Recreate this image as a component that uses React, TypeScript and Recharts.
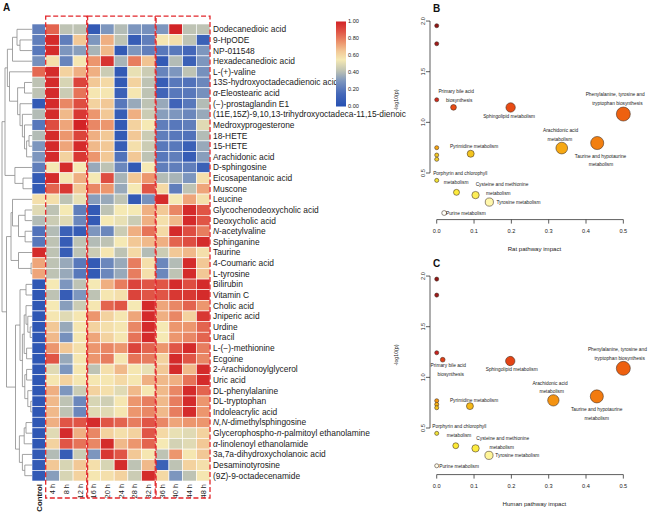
import React from 'react';
import {
  ScatterChart, Scatter, XAxis, YAxis, ZAxis, ReferenceLine, ReferenceArea,
  BarChart, Bar, Cell,
} from 'recharts';

const FONT = '"Liberation Sans", Arial, Helvetica, sans-serif';

// ---- panel A: heatmap ----
// text between underscores is set in italics
const metabolites = [
  'Dodecanedioic acid', '9-HpODE', 'NP-011548', 'Hexadecanedioic acid', 'L-(+)-valine',
  '13S-hydroxyoctadecadienoic acid', '_α_-Eleostearic acid', '(−)-prostaglandin E1',
  '(11E,15Z)-9,10,13-trihydroxyoctadeca-11,15-dienoic', 'Medroxyprogesterone', '18-HETE', '15-HETE',
  'Arachidonic acid', 'D-sphingosine', 'Eicosapentanoic acid', 'Muscone', 'Leucine',
  'Glycochenodeoxycholic acid', 'Deoxycholic acid', '_N_-acetylvaline', 'Sphinganine', 'Taurine',
  '4-Coumaric acid', 'L-tyrosine', 'Bilirubin', 'Vitamin C', 'Cholic acid', 'Jniperic acid', 'Urdine',
  'Uracil', 'L-(−)-methionine', 'Ecgoine', '2-Arachidonoylglycerol', 'Uric acid', 'DL-phenylalanine',
  'DL-tryptophan', 'Indoleacrylic acid', '_N,N_-dimethylsphingosine',
  'Glycerophospho-_n_-palmitoyl ethanolamine', '_α_-linolenoyl ethanolamide',
  '3a,7a-dihydroxycholanoic acid', 'Desaminotyrosine', '(9Z)-9-octadecenamide',
];

const timepoints = ['Control', '4 h', '8 h', '12 h', '16 h', '20 h', '24 h', '28 h', '32 h', '36 h', '40 h', '44 h', '48 h'];

// scaled abundance, one row per metabolite, columns = timepoints
const heatValues = [
  [0.22, 0.85, 0.42, 0.42, 0.06, 0.3, 0.4, 0.3, 0.28, 0.3, 1.0, 0.42, 0.42],
  [0.22, 0.98, 0.22, 0.65, 0.3, 0.7, 0.42, 0.08, 0.22, 0.56, 0.58, 0.42, 0.1],
  [0.2, 0.98, 0.3, 0.32, 0.38, 0.68, 0.06, 0.3, 0.22, 0.2, 0.2, 0.14, 0.3],
  [0.28, 0.58, 0.24, 0.56, 0.75, 0.96, 0.38, 0.8, 0.66, 0.06, 0.4, 0.1, 0.3],
  [0.84, 0.98, 0.62, 0.7, 0.7, 0.45, 0.06, 0.52, 0.45, 0.24, 0.3, 0.42, 0.28],
  [0.42, 0.98, 0.48, 0.92, 0.65, 0.6, 0.06, 0.62, 0.42, 0.08, 0.2, 0.18, 0.25],
  [0.42, 0.98, 0.45, 0.82, 0.56, 0.56, 0.1, 0.56, 0.42, 0.12, 0.2, 0.2, 0.28],
  [0.06, 0.98, 0.78, 0.9, 0.62, 0.65, 0.2, 0.35, 0.42, 0.35, 0.12, 0.2, 0.4],
  [0.4, 0.98, 0.68, 0.95, 0.75, 0.65, 0.08, 0.7, 0.45, 0.32, 0.3, 0.25, 0.35],
  [0.2, 0.9, 0.72, 1.0, 0.78, 0.75, 0.06, 0.62, 0.55, 0.22, 0.2, 0.22, 0.5],
  [0.4, 0.98, 0.75, 0.92, 0.7, 0.65, 0.06, 0.65, 0.45, 0.22, 0.2, 0.18, 0.4],
  [0.3, 0.98, 0.72, 0.98, 0.68, 0.65, 0.08, 0.58, 0.45, 0.2, 0.2, 0.1, 0.35],
  [0.3, 0.98, 0.62, 0.95, 0.75, 0.65, 0.18, 0.65, 0.42, 0.2, 0.22, 0.08, 0.32],
  [0.22, 0.55, 0.98, 0.55, 0.35, 0.42, 0.25, 0.06, 0.55, 0.22, 0.22, 0.22, 0.1],
  [0.06, 0.98, 0.56, 0.7, 0.55, 0.9, 0.38, 0.65, 0.75, 0.4, 0.38, 0.3, 0.58],
  [0.06, 0.85, 0.95, 0.65, 0.78, 0.75, 0.35, 0.55, 0.88, 0.6, 0.22, 0.42, 0.72],
  [0.58, 0.58, 0.42, 0.52, 0.32, 0.35, 0.42, 0.06, 0.28, 0.98, 0.55, 0.72, 0.58],
  [0.5, 0.42, 0.55, 0.22, 0.06, 0.42, 0.55, 0.55, 0.7, 0.65, 0.78, 0.98, 0.88],
  [0.4, 0.45, 0.5, 0.25, 0.06, 0.55, 0.52, 0.45, 0.7, 0.58, 0.68, 0.98, 0.88],
  [0.18, 0.4, 0.1, 0.08, 0.3, 0.25, 0.45, 0.7, 0.82, 0.6, 0.98, 0.9, 0.8],
  [0.2, 0.42, 0.08, 0.42, 0.4, 0.42, 0.55, 0.65, 0.68, 0.7, 0.85, 0.9, 0.98],
  [0.98, 0.42, 0.08, 0.42, 0.45, 0.56, 0.42, 0.6, 0.4, 0.45, 0.65, 0.68, 0.58],
  [0.72, 0.42, 0.35, 0.2, 0.06, 0.25, 0.35, 0.8, 0.58, 0.25, 0.4, 0.98, 0.65],
  [0.72, 0.42, 0.35, 0.2, 0.06, 0.25, 0.35, 0.8, 0.58, 0.25, 0.42, 0.98, 0.65],
  [0.04, 0.55, 0.3, 0.42, 0.55, 0.7, 0.8, 0.92, 0.88, 0.88, 0.98, 0.9, 0.98],
  [0.04, 0.42, 0.08, 0.3, 0.42, 0.56, 0.58, 0.92, 0.88, 0.88, 0.95, 0.95, 0.98],
  [0.04, 0.55, 0.32, 0.45, 0.56, 0.85, 0.88, 0.55, 0.98, 0.72, 0.78, 0.85, 0.75],
  [0.04, 0.56, 0.5, 0.56, 0.75, 0.62, 0.56, 0.72, 0.98, 0.7, 0.78, 0.62, 0.95],
  [0.04, 0.65, 0.35, 0.56, 0.62, 0.58, 0.56, 0.78, 0.98, 0.55, 0.75, 0.75, 0.85],
  [0.04, 0.68, 0.28, 0.56, 0.72, 0.62, 0.56, 0.82, 0.98, 0.55, 0.75, 0.78, 0.85],
  [0.04, 0.75, 0.65, 0.58, 0.75, 0.78, 0.75, 0.92, 0.85, 0.75, 0.88, 0.98, 0.8],
  [0.04, 0.88, 0.35, 0.56, 0.75, 0.8, 0.56, 0.82, 0.8, 0.62, 0.98, 0.88, 0.78],
  [0.04, 0.5, 0.3, 0.56, 0.42, 0.58, 0.68, 0.56, 0.52, 0.65, 0.98, 0.68, 0.98],
  [0.04, 0.56, 0.62, 0.56, 0.56, 0.56, 0.6, 0.56, 0.7, 0.68, 0.7, 0.82, 0.98],
  [0.04, 0.7, 0.3, 0.45, 0.62, 0.58, 0.5, 0.68, 0.56, 0.68, 0.78, 0.98, 0.85],
  [0.04, 0.68, 0.42, 0.25, 0.48, 0.46, 0.56, 0.75, 0.8, 0.68, 0.8, 0.98, 0.75],
  [0.04, 0.68, 0.42, 0.25, 0.5, 0.5, 0.56, 0.75, 0.78, 0.68, 0.8, 0.98, 0.75],
  [0.04, 0.7, 0.88, 0.88, 0.98, 0.88, 0.85, 0.8, 0.88, 0.78, 0.72, 0.75, 0.75],
  [0.04, 0.5, 0.98, 0.7, 0.78, 0.62, 0.58, 0.62, 0.88, 0.6, 0.52, 0.5, 0.62],
  [0.04, 0.62, 0.88, 0.82, 0.78, 0.98, 0.68, 0.75, 0.85, 0.55, 0.47, 0.5, 0.65],
  [0.06, 0.4, 0.08, 0.45, 0.3, 0.95, 0.88, 0.65, 0.56, 0.42, 0.75, 0.56, 0.65],
  [0.06, 0.65, 0.48, 0.65, 0.58, 0.48, 0.98, 0.42, 0.68, 0.1, 0.42, 0.62, 0.58],
  [0.06, 0.32, 0.48, 0.62, 0.56, 0.58, 0.62, 0.45, 0.98, 0.6, 0.3, 0.42, 0.56],
];

const legendTicks = [0, 0.2, 0.4, 0.6, 0.8, 1];

// row clustering: [left, right, height]; ids >= 43 point at earlier merges (43 + index)
const dendroMerges: [number, number, number][] = [
  [1, 2, 4.0], [0, 43, 5.0], [44, 3, 6.5], [5, 6, 2.5], [10, 11, 1.0], [47, 12, 1.8],
  [9, 48, 2.5], [8, 49, 3.2], [7, 50, 4.0], [46, 51, 4.8], [4, 52, 7.5], [45, 53, 8.2],
  [14, 15, 3.0], [13, 55, 5.7], [54, 56, 9.0],
  [17, 18, 2.3], [19, 20, 2.3], [58, 59, 4.5], [16, 60, 6.5], [22, 23, 0.3], [21, 62, 4.5], [61, 63, 7.0],
  [24, 25, 2.0], [28, 29, 0.6], [27, 66, 1.4], [26, 67, 2.0], [30, 31, 1.8], [68, 69, 2.6],
  [32, 33, 1.8], [35, 36, 0.4], [34, 72, 1.4], [71, 73, 2.4], [70, 74, 3.2], [65, 75, 4.0],
  [37, 38, 2.0], [77, 39, 2.6], [41, 42, 2.4], [40, 79, 3.2], [78, 80, 4.2], [76, 81, 5.5],
  [64, 82, 8.5], [57, 83, 10],
];

// ---- panels B and C: pathway bubbles ----
const ratImpact = [0, 0, 0, 0.045, 0.198, 0.5, 0.335, 0.43, 0, 0, 0, 0.091, 0, 0.053, 0.104, 0.141, 0.02];
const ratLogP = [1.954, 1.776, 1.223, 1.148, 1.147, 1.082, 0.746, 0.796, 0.75, 0.677, 0.635, 0.69, 0.427, 0.309, 0.282, 0.213, 0.105];
const humanImpact = [0, 0, 0, 0.016, 0.197, 0.5, 0.3125, 0.429, 0, 0, 0, 0.089, 0, 0.051, 0.104, 0.14, 0];
const humanLogP = [1.97, 1.812, 1.243, 1.174, 1.161, 1.089, 0.773, 0.812, 0.769, 0.733, 0.7, 0.716, 0.447, 0.325, 0.299, 0.23, 0.127];

const impactTicks = [0, 0.1, 0.2, 0.3, 0.4, 0.5];
const logPTicks = [0.5, 1.0, 1.5, 2.0];

// [text, impact, -log10(p)] as placed with text() in the original
const ratLabels: [string, number, number][] = [
  ['Primary bile acid', 0.052, 1.306], ['biosynthesis', 0.06, 1.22],
  ['Sphingolipid metabolism', 0.194, 1.055],
  ['Phenylalanine, tyrosine and', 0.478, 1.272], ['tryptophan biosynthesis', 0.484, 1.184],
  ['Arachidonic acid', 0.332, 0.921], ['metabolism', 0.33, 0.832],
  ['Taurine and hypotaurine', 0.439, 0.667], ['metabolism', 0.44, 0.581],
  ['Pyrimidine metabolism', 0.1, 0.759],
  ['Porphyrin and chlorophyll', 0.063, 0.493], ['metabolism', 0.052, 0.404],
  ['Cysteine and methionine', 0.175, 0.384], ['metabolism', 0.165, 0.299],
  ['Tyrosine metabolism', 0.219, 0.21], ['Purine metabolism', 0.078, 0.105],
];
const humanLabels: [string, number, number][] = [
  ['Phenylalanine, tyrosine and', 0.484, 1.276], ['tryptophan biosynthesis', 0.49, 1.188],
  ['Primary bile acid', 0.031, 1.115], ['biosynthesis', 0.0375, 1.03],
  ['Sphingolipid metabolism', 0.201, 1.075],
  ['Arachidonic acid', 0.3035, 0.944], ['metabolism', 0.308, 0.858],
  ['Taurine and hypotaurine', 0.4286, 0.687], ['metabolism', 0.4286, 0.598],
  ['Pyrimidine metabolism', 0.1, 0.776],
  ['Porphyrin and chlorophyll', 0.0606, 0.512], ['metabolism', 0.06, 0.424],
  ['Cysteine and methionine', 0.177, 0.401], ['metabolism', 0.174, 0.312],
  ['Tyrosine metabolism', 0.216, 0.23], ['Purine metabolism', 0.06, 0.124],
];

// ---- colours ----
const heatStops: [number, number[]][] = [
  [0, [38, 80, 178]], [0.15, [70, 105, 185]], [0.3, [125, 150, 190]], [0.42, [190, 195, 180]],
  [0.55, [245, 233, 180]], [0.65, [242, 200, 150]], [0.75, [236, 150, 110]], [0.88, [224, 85, 70]],
  [1, [210, 35, 38]],
];

const hex = (h: string) => [1, 3, 5].map((i) => parseInt(h.slice(i, i + 2), 16));
const bubbleStops: [number, number[]][] = [
  [0.1, '#ffffff'], [0.22, '#fff6a6'], [0.3, '#fdec40'], [0.35, '#fbe628'], [0.45, '#eee23a'],
  [0.65, '#f0cc2c'], [0.7, '#f4c21c'], [0.75, '#f6a612'], [0.8, '#f27c10'], [1.09, '#ee6010'],
  [1.15, '#e84a14'], [1.2, '#d83018'], [1.25, '#c42020'], [1.8, '#9e1a1a'], [2.0, '#8c1414'],
].map(([v, c]) => [v as number, hex(c as string)]);

function ramp(stops: [number, number[]][], v: number) {
  if (v <= stops[0][0]) return `rgb(${stops[0][1].join(',')})`;
  for (let i = 1; i < stops.length; i++) {
    const [v1, c1] = stops[i];
    const [v0, c0] = stops[i - 1];
    if (v <= v1) {
      const t = (v - v0) / (v1 - v0);
      return `rgb(${c0.map((c, k) => Math.round(c + (c1[k] - c) * t)).join(',')})`;
    }
  }
  return `rgb(${stops[stops.length - 1][1].join(',')})`;
}
const heatColor = (v: number) => ramp(heatStops, v);
const bubbleColor = (v: number) => ramp(bubbleStops, v);

// ---- layout ----
const HM = { width: 430, height: 515, top: 24, bottom: 481, left: 32, right: 210 };
const CELL_W = (HM.right - HM.left) / timepoints.length;
const CELL_H = (HM.bottom - HM.top) / metabolites.length;
const hmMargin = { top: HM.top, bottom: HM.height - HM.bottom, left: HM.left, right: HM.width - HM.right };
const rowDomain = [-0.5, metabolites.length - 0.5];
const colDomain = [-0.5, timepoints.length - 0.5];

const RowTick = ({ x, y, payload }: any) => {
  const parts = (metabolites[payload.value] || '').split('_');
  return (
    <text x={x} y={y} dy="0.35em" fontSize={8.4} fontFamily={FONT} fill="#1a1a1a" textAnchor="start">
      {parts.map((p, i) => (
        <tspan key={i} fontStyle={i % 2 ? 'italic' : 'normal'}>{p}</tspan>
      ))}
    </text>
  );
};

const ColTick = ({ x, y, payload }: any) => (
  <text
    x={x} y={y} dy="0.35em" transform={`rotate(-90 ${x} ${y})`} textAnchor="end"
    fontSize={payload.value === 0 ? 7.8 : 7.4} fontWeight={payload.value === 0 ? 'bold' : 'normal'}
    fontFamily={FONT} fill="#1a1a1a"
  >
    {timepoints[payload.value]}
  </text>
);

const HeatCell = (p: any) => (
  <rect
    x={p.cx - CELL_W / 2} y={p.cy - CELL_H / 2} width={CELL_W} height={CELL_H}
    fill={heatColor(p.payload.v)} stroke="#ffffff" strokeWidth={0.6}
  />
);

function Heatmap() {
  const cells = heatValues.flatMap((row, r) => row.map((v, c) => ({ col: c, row: r, v })));
  return (
    <ScatterChart width={HM.width} height={HM.height} margin={{ ...hmMargin, right: hmMargin.right - 1, bottom: hmMargin.bottom - 1 }}>
      <XAxis
        type="number" dataKey="col" domain={colDomain} ticks={timepoints.map((_, i) => i)} interval={0}
        height={1} tickSize={0} tickMargin={3} axisLine={false} tickLine={false} tick={<ColTick />} allowDataOverflow
      />
      <YAxis
        type="number" dataKey="row" orientation="right" reversed domain={rowDomain}
        ticks={metabolites.map((_, i) => i)} interval={0} width={1} tickSize={0} tickMargin={3}
        axisLine={false} tickLine={false} tick={<RowTick />} allowDataOverflow
      />
      <Scatter data={cells} isAnimationActive={false} shape={(p: any) => <HeatCell {...p} />} />
    </ScatterChart>
  );
}

function TimeBoxes() {
  const boxes = [[0.5, 3.5], [3.56, 8.5], [8.56, 12.5]];
  return (
    <ScatterChart width={HM.width} height={HM.height} margin={hmMargin}>
      <XAxis type="number" dataKey="col" domain={colDomain} hide allowDataOverflow />
      <YAxis type="number" dataKey="row" reversed domain={rowDomain} hide allowDataOverflow />
      <Scatter data={[{ col: 0, row: 0 }]} isAnimationActive={false} shape={() => <g />} />
      {boxes.map(([a, b], i) => (
        <ReferenceArea
          key={i} x1={a} x2={b} y1={-1.25} y2={44.1} ifOverflow="visible"
          fill="none" fillOpacity={0} stroke="#e2262b" strokeWidth={1.3} strokeDasharray="5 2.5"
        />
      ))}
    </ScatterChart>
  );
}

function Dendrogram() {
  const nodes = metabolites.map((_, i) => ({ h: 0, y: i }));
  const segs: { x: number; y: number }[][] = [];
  dendroMerges.forEach(([a, b, h]) => {
    const na = nodes[a];
    const nb = nodes[b];
    segs.push([{ x: na.h, y: na.y }, { x: h, y: na.y }]);
    segs.push([{ x: nb.h, y: nb.y }, { x: h, y: nb.y }]);
    segs.push([{ x: h, y: na.y }, { x: h, y: nb.y }]);
    nodes.push({ h, y: (na.y + nb.y) / 2 });
  });
  const leaves = metabolites.map((_, i) => ({ x: 0, y: i }));
  return (
    <ScatterChart width={33} height={HM.height} margin={{ top: HM.top, bottom: HM.height - HM.bottom, left: 2, right: 1 }}>
      <XAxis type="number" dataKey="x" domain={[0, 10]} reversed hide allowDataOverflow />
      <YAxis type="number" dataKey="y" domain={rowDomain} reversed hide allowDataOverflow />
      <Scatter data={leaves} isAnimationActive={false} shape={() => <g />} />
      {segs.map((s, i) => (
        <ReferenceLine key={i} segment={s} stroke="#8c8c8c" strokeWidth={0.8} ifOverflow="visible" />
      ))}
    </ScatterChart>
  );
}

function ColorLegend() {
  return (
    <BarChart
      width={70} height={110} data={[{ k: 'scale', v: 1 }]}
      margin={{ top: 11.5, bottom: 13.5, left: 16, right: 14 }} barCategoryGap={0}
    >
      <XAxis dataKey="k" hide />
      <YAxis
        orientation="right" type="number" domain={[0, 1]} ticks={legendTicks} interval={0} width={30}
        tickSize={0} tickMargin={2} axisLine={false} tickLine={false}
        tick={{ fontSize: 5.6, fill: '#222', fontFamily: FONT }} tickFormatter={(v: number) => v.toFixed(2)}
      />
      <Bar dataKey="v" fill="url(#heatGradient)" isAnimationActive={false} />
    </BarChart>
  );
}

// ---- bubble panels ----
const RotTick = ({ x, y, payload }: any) => (
  <text x={x} y={y} transform={`rotate(-90 ${x} ${y})`} textAnchor="middle" fontSize={5.6} fontFamily={FONT} fill="#222">
    {Number(payload.value).toFixed(1)}
  </text>
);

const BubbleLabel = (p: any) => (
  <text x={p.cx} y={p.cy} textAnchor="middle" dominantBaseline="central" fontSize={4.8} fontFamily={FONT} fill="#222">
    {p.payload.text}
  </text>
);

function BubblePanel({ impact, logp, labels, xTitle }: { impact: number[]; logp: number[]; labels: [string, number, number][]; xTitle: string }) {
  const pts = impact.map((x, i) => ({ impact: x, logp: logp[i] }));
  const lab = labels.map(([text, x, y]) => ({ impact: x, logp: y, text }));
  const axisStroke = { stroke: '#333', strokeWidth: 0.8 };
  return (
    <ScatterChart width={270} height={260} margin={{ top: 17, right: 19.2, bottom: 25.4, left: 30 }}>
      <XAxis
        type="number" dataKey="impact" domain={[-0.018, 0.52]} ticks={impactTicks} interval={0} height={15}
        tickSize={4} tickMargin={5.5} axisLine={false} tickLine={axisStroke}
        tick={{ fontSize: 5.6, fill: '#222', fontFamily: FONT }} tickFormatter={(v: number) => v.toFixed(1)}
        label={(p: any) => {
          const vb = p.viewBox || { x: 50, y: 219.6, width: 200.8 };
          return (
            <text x={vb.x + vb.width / 2 + 4} y={vb.y + 28.4} textAnchor="middle" dominantBaseline="central" fontSize={6.1} fontFamily={FONT} fill="#222">
              {xTitle}
            </text>
          );
        }}
      />
      <YAxis
        type="number" dataKey="logp" domain={[0.04, 2.04]} ticks={logPTicks} interval={0} width={20}
        tickSize={4} tickMargin={1} axisLine={false} tickLine={axisStroke} tick={<RotTick />}
        label={(p: any) => {
          const vb = p.viewBox || { x: 30, y: 17 };
          const tx = vb.x - 14;
          const ty = vb.y + 83;
          return (
            <text x={tx} y={ty} transform={`rotate(-90 ${tx} ${ty})`} textAnchor="middle" dominantBaseline="central" fontSize={5.2} fontFamily={FONT} fill="#222">
              -log10(p)
            </text>
          );
        }}
      />
      <ZAxis type="number" dataKey="impact" range={[13, 154]} domain={[0, 0.5]} />
      <ReferenceLine segment={[{ x: -0.018, y: 0.5 }, { x: -0.018, y: 2 }]} {...axisStroke} ifOverflow="visible" />
      <ReferenceLine segment={[{ x: 0, y: 0.04 }, { x: 0.5, y: 0.04 }]} {...axisStroke} ifOverflow="visible" />
      <Scatter data={pts} isAnimationActive={false}>
        {pts.map((p, i) => (
          <Cell key={i} fill={bubbleColor(p.logp)} stroke="#3a2a20" strokeWidth={0.55} />
        ))}
      </Scatter>
      <Scatter data={lab} isAnimationActive={false} shape={(p: any) => <BubbleLabel {...p} />} />
    </ScatterChart>
  );
}

const letter = (t: string, left: number, top: number) => (
  <div style={{ position: 'absolute', left, top, fontSize: 10, fontWeight: 'bold', fontFamily: FONT, lineHeight: '10px', color: '#111' }}>
    {t}
  </div>
);

export default function App() {
  const abs = (left: number, top: number): React.CSSProperties => ({ position: 'absolute', left, top });
  return (
    <div style={{ position: 'absolute', left: 0, top: 0, width: 650, height: 515, background: '#fff', overflow: 'hidden' }}>
      <svg width={0} height={0} style={{ position: 'absolute' }}>
        <defs>
          <linearGradient id="heatGradient" x1="0" y1="1" x2="0" y2="0">
            {heatStops.map(([o, c], i) => (
              <stop key={i} offset={o} stopColor={`rgb(${c.join(',')})`} />
            ))}
          </linearGradient>
        </defs>
      </svg>
      <div style={abs(0, 0)}><Heatmap /></div>
      <div style={abs(0, 0)}><Dendrogram /></div>
      <div style={{ ...abs(0, 0), pointerEvents: 'none' }}><TimeBoxes /></div>
      <div style={abs(320, 10)}><ColorLegend /></div>
      <div style={abs(380, 0)}>
        <BubblePanel impact={ratImpact} logp={ratLogP} labels={ratLabels} xTitle="Rat pathway impact" />
      </div>
      <div style={abs(380, 255)}>
        <BubblePanel impact={humanImpact} logp={humanLogP} labels={humanLabels} xTitle="Human pathway impact" />
      </div>
      {letter('A', 3, 3)}
      {letter('B', 433, 4)}
      {letter('C', 433, 259)}
    </div>
  );
}
